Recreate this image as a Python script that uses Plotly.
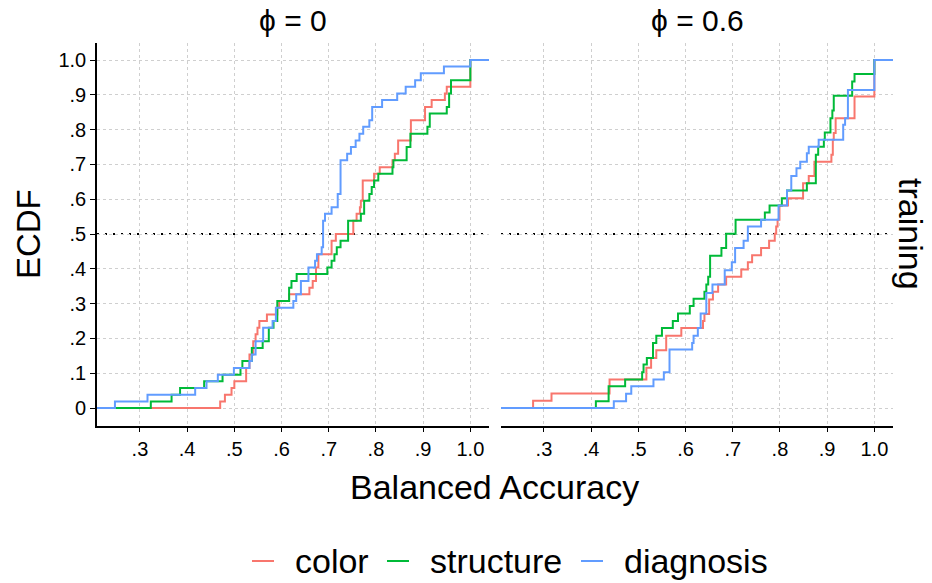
import plotly.graph_objects as go

# ---- ECDF step points (x = balanced accuracy at each jump, y = ECDF after the jump) ----
# phi = 0
color_phi0_x = [0.470, 0.480, 0.494, 0.500, 0.525, 0.532, 0.540, 0.545, 0.549, 0.553, 0.569,
                0.591, 0.595, 0.616, 0.659, 0.666, 0.673, 0.678, 0.706, 0.715, 0.752, 0.759,
                0.766, 0.768, 0.772, 0.796, 0.808, 0.835, 0.840, 0.847, 0.874, 0.904, 0.918,
                0.946, 0.950, 1.000]
color_phi0_y = [0.019, 0.038, 0.058, 0.077, 0.115, 0.154, 0.192, 0.212, 0.231, 0.250, 0.269,
                0.288, 0.308, 0.327, 0.346, 0.365, 0.404, 0.442, 0.481, 0.500, 0.538, 0.558,
                0.577, 0.596, 0.654, 0.673, 0.692, 0.712, 0.731, 0.769, 0.827, 0.865, 0.885,
                0.904, 0.923, 1.000]

structure_phi0_x = [0.323, 0.367, 0.385, 0.436, 0.475, 0.513, 0.517, 0.537, 0.560, 0.573, 0.583,
                    0.591, 0.616, 0.621, 0.632, 0.697, 0.706, 0.712, 0.717, 0.725, 0.741, 0.768,
                    0.775, 0.786, 0.791, 0.796, 0.805, 0.835, 0.837, 0.865, 0.873, 0.909, 0.914,
                    0.950, 0.955, 0.959, 1.000]
structure_phi0_y = [0.019, 0.038, 0.058, 0.077, 0.096, 0.115, 0.135, 0.173, 0.192, 0.231, 0.250,
                    0.308, 0.346, 0.365, 0.385, 0.404, 0.423, 0.442, 0.462, 0.481, 0.538, 0.558,
                    0.596, 0.615, 0.635, 0.654, 0.673, 0.692, 0.712, 0.750, 0.788, 0.808, 0.846,
                    0.865, 0.904, 0.942, 1.000]

diagnosis_phi0_x = [0.247, 0.316, 0.417, 0.441, 0.465, 0.499, 0.532, 0.537, 0.545, 0.561, 0.581,
                    0.588, 0.625, 0.631, 0.641, 0.657, 0.671, 0.675, 0.685, 0.688, 0.692, 0.706,
                    0.719, 0.725, 0.739, 0.747, 0.757, 0.765, 0.773, 0.786, 0.792, 0.813, 0.845,
                    0.863, 0.883, 0.895, 0.944, 1.000]
diagnosis_phi0_y = [0.019, 0.038, 0.058, 0.077, 0.096, 0.115, 0.135, 0.154, 0.192, 0.231, 0.250,
                    0.288, 0.308, 0.327, 0.365, 0.404, 0.423, 0.442, 0.462, 0.538, 0.558, 0.577,
                    0.615, 0.712, 0.731, 0.750, 0.769, 0.788, 0.808, 0.827, 0.865, 0.885, 0.904,
                    0.923, 0.942, 0.962, 0.981, 1.000]

# phi = 0.6
color_phi6_x = [0.277, 0.316, 0.439, 0.517, 0.527, 0.538, 0.559, 0.591, 0.637, 0.640, 0.650,
                0.658, 0.669, 0.686, 0.718, 0.732, 0.741, 0.760, 0.777, 0.789, 0.792, 0.795,
                0.799, 0.817, 0.849, 0.861, 0.873, 0.909, 0.912, 0.914, 0.918, 0.958, 1.000]
color_phi6_y = [0.021, 0.042, 0.082, 0.116, 0.144, 0.166, 0.208, 0.230, 0.250, 0.270, 0.312,
                0.334, 0.355, 0.377, 0.398, 0.419, 0.439, 0.460, 0.481, 0.501, 0.522, 0.541,
                0.582, 0.603, 0.646, 0.667, 0.708, 0.728, 0.771, 0.790, 0.833, 0.895, 1.000]

structure_phi6_x = [0.410, 0.437, 0.472, 0.508, 0.511, 0.518, 0.531, 0.538, 0.550, 0.573, 0.584,
                    0.609, 0.617, 0.640, 0.644, 0.648, 0.652, 0.676, 0.686, 0.706, 0.768, 0.778,
                    0.804, 0.815, 0.857, 0.876, 0.881, 0.893, 0.895, 0.907, 0.911, 0.914, 0.953,
                    0.958, 1.000]
structure_phi6_y = [0.020, 0.063, 0.082, 0.103, 0.125, 0.144, 0.187, 0.208, 0.230, 0.250, 0.272,
                    0.293, 0.314, 0.334, 0.355, 0.377, 0.438, 0.460, 0.501, 0.541, 0.562, 0.582,
                    0.603, 0.625, 0.646, 0.728, 0.751, 0.771, 0.792, 0.833, 0.855, 0.897, 0.938,
                    0.960, 1.000]

diagnosis_phi6_x = [0.448, 0.474, 0.485, 0.532, 0.554, 0.566, 0.614, 0.617, 0.626, 0.632, 0.644,
                    0.657, 0.683, 0.698, 0.705, 0.723, 0.732, 0.760, 0.797, 0.815, 0.824, 0.835,
                    0.843, 0.857, 0.861, 0.882, 0.934, 0.938, 0.944, 1.000]
diagnosis_phi6_y = [0.020, 0.041, 0.063, 0.082, 0.103, 0.168, 0.187, 0.208, 0.230, 0.272, 0.331,
                    0.355, 0.396, 0.419, 0.460, 0.481, 0.522, 0.541, 0.582, 0.625, 0.667, 0.689,
                    0.708, 0.732, 0.751, 0.771, 0.814, 0.833, 0.914, 1.000]

groups = ["color", "structure", "diagnosis"]
group_colors = {"color": "#F8766D", "structure": "#00BA38", "diagnosis": "#619CFF"}
panels = {
    "x": {"color": (color_phi0_x, color_phi0_y),
          "structure": (structure_phi0_x, structure_phi0_y),
          "diagnosis": (diagnosis_phi0_x, diagnosis_phi0_y)},
    "x2": {"color": (color_phi6_x, color_phi6_y),
           "structure": (structure_phi6_x, structure_phi6_y),
           "diagnosis": (diagnosis_phi6_x, diagnosis_phi6_y)},
}
panel_titles = ["\u03d5 = 0", "\u03d5 = 0.6"]
x_ticks = [0.3, 0.4, 0.5, 0.6, 0.7, 0.8, 0.9, 1.0]
x_tick_text = [".3", ".4", ".5", ".6", ".7", ".8", ".9", "1.0"]
y_ticks = [0, 0.1, 0.2, 0.3, 0.4, 0.5, 0.6, 0.7, 0.8, 0.9, 1.0]
y_tick_text = ["0", ".1", ".2", ".3", ".4", ".5", ".6", ".7", ".8", ".9", "1.0"]
reference_level = 0.5

X_RANGE = [0.209, 1.0395]
Y_RANGE = [-0.05, 1.05]

W, H = 932, 583
FONT = "Liberation Sans, Arial, Helvetica, sans-serif"
GRID = "#cfcfcf"

fig = go.Figure()
for axis, series in panels.items():
    for g in groups:
        xs, ys = series[g]
        # pad the ECDF out to both ends of the panel
        fig.add_trace(go.Scatter(
            x=[X_RANGE[0]] + list(xs) + [X_RANGE[1]],
            y=[0] + list(ys) + [1],
            mode="lines",
            line=dict(color=group_colors[g], width=2, shape="hv"),
            name=g,
            showlegend=False,
            xaxis=axis, yaxis="y",
        ))

dom_l = [97 / W, 489 / W]
dom_r = [501 / W, 893 / W]
dom_y = [1 - 425.5 / H, 1 - 42.6 / H]

axis_common = dict(
    range=X_RANGE, tickvals=x_ticks, ticktext=x_tick_text,
    showline=True, linecolor="black", linewidth=1.6,
    ticks="outside", ticklen=5, tickwidth=1.4, tickcolor="black",
    showgrid=True, gridcolor=GRID, gridwidth=1, griddash="dot",
    zeroline=False, tickfont=dict(family=FONT, size=20, color="black"),
    anchor="y",
)

fig.update_layout(
    width=W, height=H,
    margin=dict(l=0, r=0, t=0, b=0),
    paper_bgcolor="white", plot_bgcolor="white",
    xaxis=dict(domain=dom_l, **axis_common),
    xaxis2=dict(domain=dom_r, **axis_common),
    yaxis=dict(
        domain=dom_y, range=Y_RANGE, tickvals=y_ticks, ticktext=y_tick_text,
        showline=True, linecolor="black", linewidth=1.6,
        ticks="outside", ticklen=5, tickwidth=1.4, tickcolor="black",
        showgrid=True, gridcolor=GRID, gridwidth=1, griddash="dot",
        zeroline=False, tickfont=dict(family=FONT, size=20, color="black"),
    ),
    showlegend=False,
)

# horizontal reference line at the median in each panel
for xr in ["x domain", "x2 domain"]:
    fig.add_shape(type="line", xref=xr, yref="y", x0=0, x1=1,
                  y0=reference_level, y1=reference_level,
                  line=dict(color="black", width=2, dash="2px,6px"), layer="below")

# panel titles
for title, dom in zip(panel_titles, [dom_l, dom_r]):
    fig.add_annotation(text=title, xref="paper", yref="paper",
                       x=(dom[0] + dom[1]) / 2, y=1 - 20 / H,
                       showarrow=False, xanchor="center", yanchor="middle",
                       font=dict(family=FONT, size=30, color="black"))

# row strip label
fig.add_annotation(text="training", xref="paper", yref="paper",
                   x=911 / W, y=(dom_y[0] + dom_y[1]) / 2, textangle=90,
                   showarrow=False, xanchor="center", yanchor="middle",
                   font=dict(family=FONT, size=34, color="black"))

# axis titles
fig.add_annotation(text="ECDF", xref="paper", yref="paper",
                   x=28 / W, y=(dom_y[0] + dom_y[1]) / 2, textangle=-90,
                   showarrow=False, xanchor="center", yanchor="middle",
                   font=dict(family=FONT, size=33, color="black"))
fig.add_annotation(text="Balanced Accuracy", xref="paper", yref="paper",
                   x=494 / W, y=1 - 487 / H,
                   showarrow=False, xanchor="center", yanchor="middle",
                   font=dict(family=FONT, size=34, color="black"))

# legend: colour key segment followed by the group name
legend_key_x = {"color": 252, "structure": 387, "diagnosis": 581}
legend_y = 1 - 561 / H
for g in groups:
    x0 = legend_key_x[g]
    fig.add_shape(type="line", xref="paper", yref="paper",
                  x0=x0 / W, x1=(x0 + 22) / W, y0=legend_y, y1=legend_y,
                  line=dict(color=group_colors[g], width=2))
    fig.add_annotation(text=g, xref="paper", yref="paper",
                       x=(x0 + 41) / W, y=legend_y, showarrow=False,
                       xanchor="left", yanchor="middle",
                       font=dict(family=FONT, size=34, color="black"))

fig.write_html("out.html")
